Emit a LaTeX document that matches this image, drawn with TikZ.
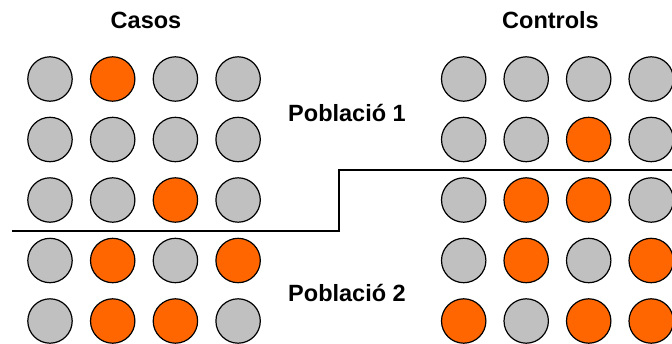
\documentclass[tikz,border=0pt]{standalone}
\usepackage{fontspec}
\setmainfont{Liberation Sans}
\begin{document}
\begin{tikzpicture}[x=1pt,y=-1pt,
  dot/.style={circle,draw=black,line width=1.2pt,minimum size=44.4pt,inner sep=0pt,outer sep=0pt},
  gr/.style={dot,fill=lightgray},
  og/.style={dot,fill=accent},
  title/.style={font=\bfseries\fontsize{23.5}{26}\selectfont,anchor=base,inner sep=0pt},
  divider/.style={line width=1.5pt}]
\definecolor{lightgray}{HTML}{C0C0C0}
\definecolor{accent}{HTML}{FF6600}
\useasboundingbox (0,0) rectangle (672,343);

% left group (cases), row by row: gr = grey, og = orange
\foreach \r/\row in {1/{gr,og,gr,gr},2/{gr,gr,gr,gr},3/{gr,gr,og,gr},4/{gr,og,gr,og},5/{gr,og,og,gr}}{
  \foreach [count=\c] \k in \row {
    \node[\k] (L\r\c) at ({50+62.7*(\c-1)},{79+60.5*(\r-1)}) {};
  }
}
% right group (controls)
\foreach \r/\row in {1/{gr,gr,gr,gr},2/{gr,gr,og,gr},3/{gr,og,og,gr},4/{gr,og,gr,og},5/{og,gr,og,og}}{
  \foreach [count=\c] \k in \row {
    \node[\k] (R\r\c) at ({463.7+62.5*(\c-1)},{79+60.5*(\r-1)}) {};
  }
}

% headings and population labels
\node[title] (casos) at (146,28) {Casos};
\node[title] (controls) at (550.5,28) {Controls};
\node[title] (pob1) at (347,121.7) {Població 1};
\node[title] (pob2) at (347,301.7) {Població 2};

% stepped boundary between the two populations
\coordinate (s0) at (12,231);
\coordinate (s1) at (339,231);
\coordinate (s2) at (339,170);
\coordinate (s3) at (672,170);
\draw[divider] (s0) -- (s1) -- (s2) -- (s3);
\end{tikzpicture}
\end{document}
